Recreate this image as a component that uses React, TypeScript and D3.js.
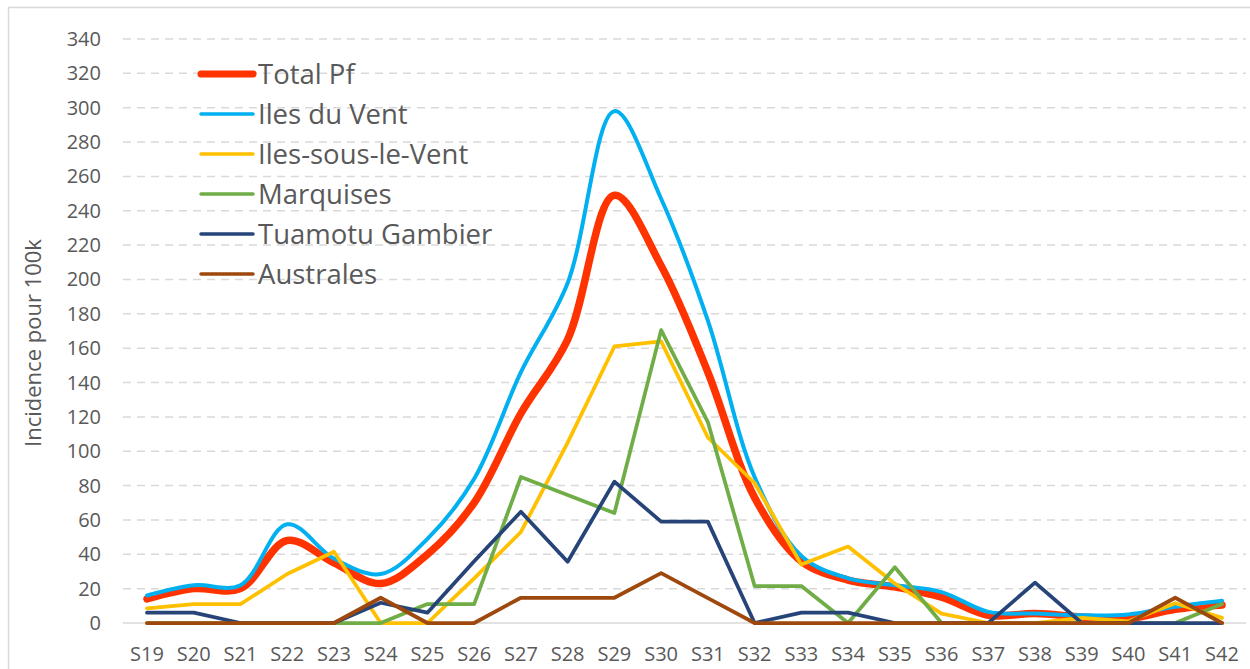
import React, { useRef, useEffect } from 'react';
import * as d3 from 'd3';

const weeks = ['S19', 'S20', 'S21', 'S22', 'S23', 'S24', 'S25', 'S26', 'S27', 'S28', 'S29', 'S30',
  'S31', 'S32', 'S33', 'S34', 'S35', 'S36', 'S37', 'S38', 'S39', 'S40', 'S41', 'S42'];

const totalPf = [14, 20, 20, 48, 35, 23, 40, 70, 122, 165, 249, 208, 146, 73, 36, 25, 21, 15, 4.5, 5.5, 3.5, 2.5, 8, 10.5];
const ilesDuVent = [16, 22, 22, 57.5, 37.5, 28.5, 49, 84, 146, 198, 298, 247, 176, 85, 39, 26, 22, 18, 6.5, 5.5, 4.5, 5, 9.5, 13];
const ilesSousLeVent = [8.5, 11, 11, 28.5, 41.5, 0, 0, 26, 53, 105, 161, 164, 108, 81.5, 34, 44.5, 23, 5.5, 0, 0, 3, 1, 11.5, 3];
const marquises = [0, 0, 0, 0, 0, 0, 11, 11, 85, 74.5, 64, 170.5, 117, 21.5, 21.5, 0, 32.5, 0, 0, 0, 0, 0, 0, 11];
const tuamotu = [6, 6, 0, 0, 0, 11.8, 6, 36, 64.8, 35.7, 82.3, 59, 59, 0, 6, 6, 0, 0, 0, 23.5, 0, 0, 0, 0];
const australes = [0, 0, 0, 0, 0, 14.7, 0, 0, 14.7, 14.7, 14.7, 29, 14.5, 0, 0, 0, 0, 0, 0, 0, 0, 0, 14.7, 0];

const yTicks = d3.range(0, 341, 20);

const series = [
  { name: 'Total Pf', values: totalPf, color: '#ff3300', width: 7.5, smooth: true },
  { name: 'Iles du Vent', values: ilesDuVent, color: '#00b0f0', width: 4, smooth: true },
  { name: 'Iles-sous-le-Vent', values: ilesSousLeVent, color: '#ffc000', width: 3.75, smooth: false },
  { name: 'Marquises', values: marquises, color: '#70ad47', width: 3.75, smooth: false },
  { name: 'Tuamotu Gambier', values: tuamotu, color: '#264478', width: 3.75, smooth: false },
  { name: 'Australes', values: australes, color: '#9e480e', width: 3.75, smooth: false },
];

const FONT = '"Open Sans", sans-serif';
const TEXT = '#595959';

const App = () => {
  const svgRef = useRef<SVGSVGElement>(null);

  useEffect(() => {
    const width = 1250;
    const height = 669;
    const svg = d3.select(svgRef.current).attr('width', width).attr('height', height).html('');

    // chart border
    svg.append('rect')
      .attr('x', 8.5).attr('y', 7.5)
      .attr('width', 1260).attr('height', 680)
      .attr('fill', '#fff').attr('stroke', '#d9d9d9').attr('stroke-width', 1.5);

    const x = d3.scalePoint<string>().domain(weeks).range([147, 1222]);
    const y = d3.scaleLinear().domain([0, 340]).range([623, 39]);

    // grid
    svg.append('g').selectAll('line')
      .data(yTicks)
      .enter()
      .append('line')
      .attr('x1', 123).attr('x2', 1246)
      .attr('y1', d => y(d)).attr('y2', d => y(d))
      .attr('stroke', '#d9d9d9')
      .attr('stroke-width', 1.5)
      .attr('stroke-dasharray', d => (d === 0 ? null : '8 6'));

    // y tick labels
    svg.append('g').selectAll('text')
      .data(yTicks)
      .enter()
      .append('text')
      .attr('x', 101).attr('y', d => y(d))
      .attr('dy', '0.35em')
      .attr('text-anchor', 'end')
      .attr('font-family', FONT).attr('font-size', 20).attr('fill', TEXT)
      .text(d => d);

    // x tick labels
    svg.append('g').selectAll('text')
      .data(weeks)
      .enter()
      .append('text')
      .attr('x', d => x(d) as number).attr('y', 654)
      .attr('dy', '0.35em')
      .attr('text-anchor', 'middle')
      .attr('font-family', FONT).attr('font-size', 20).attr('fill', TEXT)
      .text(d => d);

    // y axis title
    svg.append('text')
      .attr('transform', 'translate(33,343) rotate(-90)')
      .attr('dy', '0.35em')
      .attr('text-anchor', 'middle')
      .attr('font-family', FONT).attr('font-size', 22).attr('fill', TEXT)
      .text('Incidence pour 100k');

    // lines
    series.forEach(s => {
      const line = d3.line<number>()
        .x((_, i) => x(weeks[i]) as number)
        .y(d => y(d))
        .curve(s.smooth ? d3.curveCatmullRom.alpha(0.5) : d3.curveLinear);
      svg.append('path')
        .datum(s.values)
        .attr('d', line)
        .attr('fill', 'none')
        .attr('stroke', s.color)
        .attr('stroke-width', s.width)
        .attr('stroke-linejoin', 'round')
        .attr('stroke-linecap', 'round');
    });

    // legend
    const legend = svg.append('g').selectAll('g')
      .data(series)
      .enter()
      .append('g')
      .attr('transform', (_, i) => `translate(0,${74 + i * 40})`);
    legend.append('line')
      .attr('x1', 201).attr('x2', 253)
      .attr('stroke', d => d.color)
      .attr('stroke-width', d => (d.width > 5 ? 7 : 3.5))
      .attr('stroke-linecap', 'round');
    legend.append('text')
      .attr('x', 258)
      .attr('dy', '0.35em')
      .attr('font-family', FONT).attr('font-size', 27.5).attr('fill', TEXT)
      .text(d => d.name);
  }, []);

  return <svg ref={svgRef} style={{ position: 'absolute', left: 0, top: 0, display: 'block' }}></svg>;
};

export default App;
